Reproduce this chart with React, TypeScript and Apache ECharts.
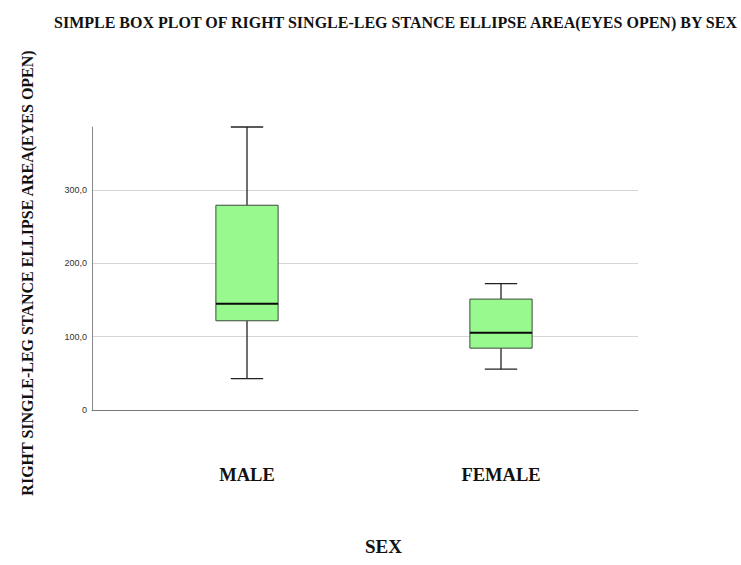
import React, { useEffect, useRef } from "react";
import * as echarts from "echarts";

const categories = ["MALE", "FEMALE"];
// [min, Q1, median, Q3, max]
const maleStats = [42.7, 121.8, 145.0, 279.5, 386.3];
const femaleStats = [55.7, 84.4, 105.3, 151.4, 172.4];
const yTicks = [0, 100, 200, 300];

const TITLE = "SIMPLE BOX PLOT OF RIGHT SINGLE-LEG STANCE ELLIPSE AREA(EYES OPEN) BY SEX";
const Y_NAME = "RIGHT SINGLE-LEG STANCE ELLIPSE AREA(EYES OPEN)";
const X_NAME = "SEX";

const SERIF = "'Liberation Serif', 'Times New Roman', serif";

export default function App() {
  const ref = useRef<HTMLDivElement>(null);
  useEffect(() => {
    if (!ref.current) return;
    const chart = echarts.init(ref.current, null, { renderer: "svg" });
    const stats = [maleStats, femaleStats];
    const yMax = Math.max(...stats.map((s) => s[4]));
    const data = stats.map((s, i) => [i, ...s]);
    const fmt = (v: number) => (v === 0 ? "0" : v.toFixed(1).replace(".", ","));
    chart.setOption({
      animation: false,
      backgroundColor: "#ffffff",
      title: {
        text: TITLE,
        left: 49,
        top: 9,
        textStyle: { fontFamily: SERIF, fontWeight: "bold", fontSize: 16, color: "#111" },
      },
      grid: [
        { left: 92, right: 103, top: 127, bottom: 155 },
        { left: 120, right: 113, top: 127, bottom: 155 },
      ],
      xAxis: [
        {
          type: "value",
          gridIndex: 0,
          min: 0,
          max: 1,
          axisLine: { show: true, lineStyle: { color: "#777", width: 1 } },
          axisTick: { show: false },
          axisLabel: { show: false },
          splitLine: { show: false },
        },
        {
          type: "category",
          gridIndex: 1,
          data: categories,
          boundaryGap: true,
          axisLine: { show: false },
          axisTick: { show: false },
          axisLabel: {
            margin: 55,
            fontFamily: SERIF,
            fontWeight: "bold",
            fontSize: 18.5,
            color: "#111",
          },
        },
      ],
      yAxis: [
        {
          type: "value",
          gridIndex: 0,
          min: 0,
          max: yMax,
          interval: 100,
          axisLine: { show: true, lineStyle: { color: "#888", width: 1 } },
          axisTick: { show: false },
          axisLabel: {
            margin: 5,
            fontSize: 9,
            color: "#333",
            fontFamily: "Arial, 'Liberation Sans', sans-serif",
            formatter: (v: number) => (yTicks.includes(v) ? fmt(v) : ""),
            showMaxLabel: false,
          },
          splitLine: { show: true, showMaxLine: false, lineStyle: { color: "#d6d6d6", width: 1 } },
        },
        {
          type: "value",
          gridIndex: 1,
          min: 0,
          max: yMax,
          show: false,
          splitLine: { show: false },
        },
      ],
      graphic: [
        {
          type: "text",
          x: 27,
          y: 273,
          rotation: Math.PI / 2,
          style: {
            text: Y_NAME,
            font: `bold 16px ${SERIF}`,
            fill: "#111",
            textAlign: "center",
            textVerticalAlign: "middle",
          },
        },
        {
          type: "text",
          left: 365,
          top: 537,
          style: {
            text: X_NAME,
            font: `bold 19px ${SERIF}`,
            fill: "#111",
          },
        },
      ],
      series: [
        {
          type: "custom",
          xAxisIndex: 1,
          yAxisIndex: 1,
          data,
          encode: { x: 0, y: [1, 2, 3, 4, 5] },
          renderItem: (params: any, api: any) => {
            const x = api.value(0);
            const pMin = api.coord([x, api.value(1)]);
            const pQ1 = api.coord([x, api.value(2)]);
            const pMed = api.coord([x, api.value(3)]);
            const pQ3 = api.coord([x, api.value(4)]);
            const pMax = api.coord([x, api.value(5)]);
            const band = api.size([1, 0])[0];
            const bw = band * 0.245;
            const cw = bw * 0.52;
            const cx = pMed[0];
            const line = "#222";
            return {
              type: "group",
              children: [
                { type: "line", shape: { x1: cx, y1: pMax[1], x2: cx, y2: pQ3[1] }, style: { stroke: line, lineWidth: 1.3 } },
                { type: "line", shape: { x1: cx, y1: pQ1[1], x2: cx, y2: pMin[1] }, style: { stroke: line, lineWidth: 1.3 } },
                { type: "line", shape: { x1: cx - cw / 2, y1: pMax[1], x2: cx + cw / 2, y2: pMax[1] }, style: { stroke: line, lineWidth: 1.3 } },
                { type: "line", shape: { x1: cx - cw / 2, y1: pMin[1], x2: cx + cw / 2, y2: pMin[1] }, style: { stroke: line, lineWidth: 1.3 } },
                {
                  type: "rect",
                  shape: { x: cx - bw / 2, y: pQ3[1], width: bw, height: pQ1[1] - pQ3[1] },
                  style: { fill: "#98f98f", stroke: "#3d4a3d", lineWidth: 1 },
                },
                { type: "line", shape: { x1: cx - bw / 2, y1: pMed[1], x2: cx + bw / 2, y2: pMed[1] }, style: { stroke: "#0a0a0a", lineWidth: 2 } },
              ],
            };
          },
        },
      ],
    });
    return () => chart.dispose();
  }, []);
  return <div ref={ref} style={{ position: "absolute", left: 0, top: 0, width: 741, height: 565 }} />;
}
